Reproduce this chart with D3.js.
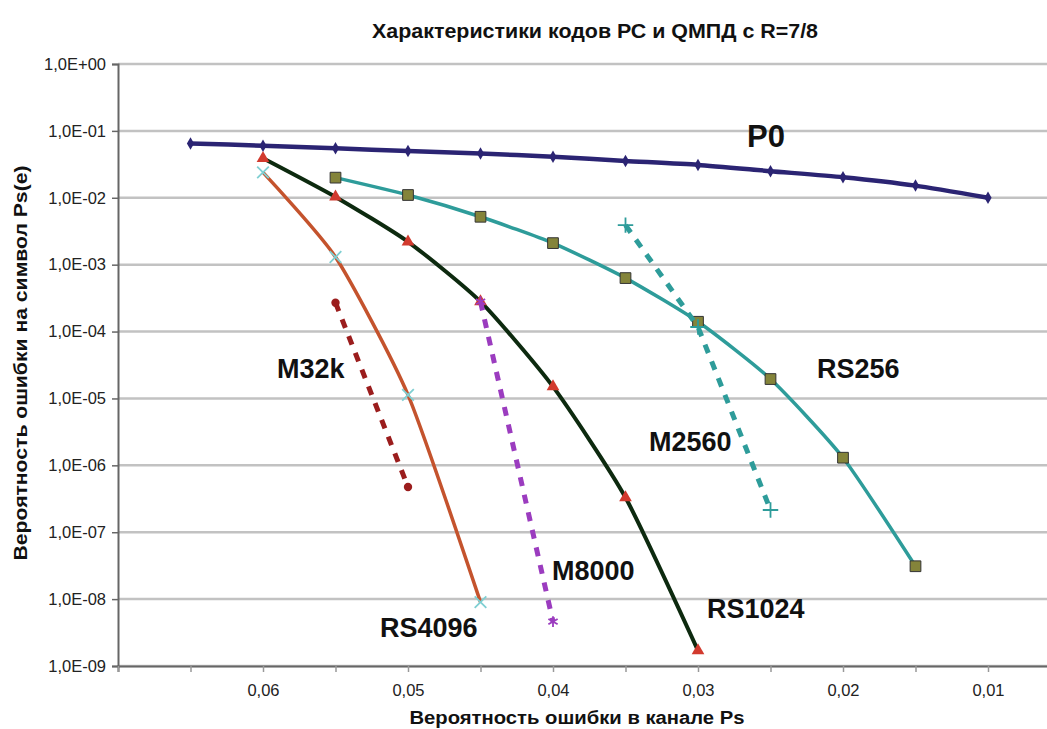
<!DOCTYPE html>
<html>
<head>
<meta charset="utf-8">
<script src="https://cdn.jsdelivr.net/npm/d3@7"></script>
<style>
  html, body { margin: 0; padding: 0; background: #fff; }
  svg { display: block; font-family: "Liberation Sans", Arial, sans-serif; }
</style>
</head>
<body>
<svg id="chart" width="1047" height="729"></svg>
<script>
// ---- data ----
const chartTitle = "Характеристики кодов РС и QМПД с R=7/8";
const xTitle = "Вероятность ошибки в канале  Ps";
const yTitle = "Вероятность ошибки на символ Ps(e)";

const seriesNames = ["P0", "RS256", "RS1024", "RS4096", "M32k", "M8000", "M2560"];

const psP0 = [0.065, 0.06, 0.055, 0.05, 0.045, 0.04, 0.035, 0.03, 0.025, 0.02, 0.015, 0.01];
const valP0 = [0.065, 0.06, 0.055, 0.05, 0.046, 0.041, 0.0355, 0.031, 0.025, 0.0203, 0.0152, 0.01];

const psRS256 = [0.055, 0.05, 0.045, 0.04, 0.035, 0.03, 0.025, 0.02, 0.015];
const valRS256 = [2.0e-2, 1.1e-2, 5.2e-3, 2.1e-3, 6.3e-4, 1.4e-4, 1.95e-5, 1.3e-6, 3.1e-8];

const psRS1024 = [0.06, 0.055, 0.05, 0.045, 0.04, 0.035, 0.03];
const valRS1024 = [3.9e-2, 1.03e-2, 2.2e-3, 2.8e-4, 1.5e-5, 3.3e-7, 1.7e-9];

const psRS4096 = [0.06, 0.055, 0.05, 0.045];
const valRS4096 = [2.4e-2, 1.3e-3, 1.13e-5, 9.0e-9];

const psM32k = [0.055, 0.05];
const valM32k = [2.7e-4, 4.75e-7];

const psM8000 = [0.045, 0.04];
const valM8000 = [2.8e-4, 4.6e-9];

const psM2560 = [0.035, 0.03, 0.025];
const valM2560 = [3.9e-3, 1.17e-4, 2.15e-7];

const yTickValues = [1, 1e-1, 1e-2, 1e-3, 1e-4, 1e-5, 1e-6, 1e-7, 1e-8, 1e-9];
const xTickValues = [0.07, 0.065, 0.06, 0.055, 0.05, 0.045, 0.04, 0.035, 0.03, 0.025, 0.02, 0.015, 0.01, 0.005];
const xTickLabels = {"0.06": "0,06", "0.05": "0,05", "0.04": "0,04", "0.03": "0,03", "0.02": "0,02", "0.01": "0,01"};

// ---- layout / style ----
const svg = d3.select("#chart");
const W = 1047, H = 729;
const plotLeft = 118, plotRight = 1133, plotTop = 64, plotBottom = 666;

const x = d3.scaleLinear().domain([0.07, 0]).range([plotLeft, plotRight]);
const y = d3.scaleLog().domain([1, 1e-9]).range([plotTop, plotBottom]);

svg.append("rect").attr("width", W).attr("height", H).attr("fill", "#fff");

// gridlines
svg.append("g").selectAll("line").data(yTickValues).join("line")
  .attr("x1", plotLeft).attr("x2", plotRight)
  .attr("y1", d => y(d)).attr("y2", d => y(d))
  .attr("stroke", "#c2c2c2").attr("stroke-width", 2.5);

// y axis
const fmtE = d => {
  const e = Math.round(Math.log10(d));
  return "1,0E" + (e >= 0 ? "+" : "-") + String(Math.abs(e)).padStart(2, "0");
};
const gy = svg.append("g").attr("transform", `translate(${plotLeft},0)`)
  .call(d3.axisLeft(y).tickValues(yTickValues).tickFormat(fmtE).tickSize(6).tickPadding(6));
gy.select(".domain").attr("stroke", "#666").attr("stroke-width", 2);
gy.selectAll(".tick line").attr("stroke", "#666").attr("stroke-width", 1.5);
gy.selectAll(".tick text").attr("font-size", 16.5).attr("fill", "#222")
  .attr("font-family", "'Liberation Sans', Arial, sans-serif");

// x axis
const gx = svg.append("g").attr("transform", `translate(0,${plotBottom})`)
  .call(d3.axisBottom(x).tickValues(xTickValues)
    .tickFormat(d => xTickLabels[String(+d.toFixed(3))] || "").tickSize(6).tickPadding(12));
gx.select(".domain").attr("stroke", "#666").attr("stroke-width", 2);
gx.selectAll(".tick line").attr("stroke", "#999").attr("stroke-width", 1.5);
gx.selectAll(".tick text").attr("font-size", 16.5).attr("fill", "#222")
  .attr("font-family", "'Liberation Sans', Arial, sans-serif");

// series definitions
const smooth = d3.curveCardinal.tension(0.4);
const series = [
  {name: seriesNames[0], xs: psP0, ys: valP0, color: "#2b2473", width: 4.5, dash: null, curve: smooth,
   sym: d3.symbolDiamond, symSize: 45, fill: "#2b2473", stroke: "none"},
  {name: seriesNames[1], xs: psRS256, ys: valRS256, color: "#2e9c9a", width: 3.5, dash: null, curve: smooth,
   sym: d3.symbolSquare, symSize: 115, fill: "#84843a", stroke: "#333"},
  {name: seriesNames[2], xs: psRS1024, ys: valRS1024, color: "#0d2a0f", width: 4, dash: null, curve: smooth,
   sym: d3.symbolTriangle, symSize: 70, fill: "#d23a2e", stroke: "none"},
  {name: seriesNames[3], xs: psRS4096, ys: valRS4096, color: "#c4532d", width: 3.5, dash: null, curve: smooth,
   sym: d3.symbolTimes, symSize: 90, fill: "none", stroke: "#7fcfd2"},
  {name: seriesNames[4], xs: psM32k, ys: valM32k, color: "#9b1d1d", width: 5, dash: "9,9", curve: d3.curveLinear,
   sym: d3.symbolCircle, symSize: 55, fill: "#9b1d1d", stroke: "none"},
  {name: seriesNames[5], xs: psM8000, ys: valM8000, color: "#9b3cbf", width: 5, dash: "9,9", curve: d3.curveLinear,
   sym: d3.symbolAsterisk, symSize: 80, fill: "none", stroke: "#9b3cbf"},
  {name: seriesNames[6], xs: psM2560, ys: valM2560, color: "#2e9c9a", width: 5, dash: "9,9", curve: d3.curveLinear,
   sym: d3.symbolPlus, symSize: 80, fill: "none", stroke: "#2e9c9a"}
];

const lineGroup = svg.append("g");
series.forEach(s => {
  const pts = s.xs.map((v, i) => [v, s.ys[i]]);
  const line = d3.line().x(d => x(d[0])).y(d => y(d[1])).curve(s.curve);
  lineGroup.append("path").attr("d", line(pts))
    .attr("fill", "none").attr("stroke", s.color).attr("stroke-width", s.width)
    .attr("stroke-dasharray", s.dash).attr("stroke-linejoin", "round");
  lineGroup.append("g").selectAll("path").data(pts).join("path")
    .attr("transform", d => `translate(${x(d[0])},${y(d[1])})`)
    .attr("d", d3.symbol().type(s.sym).size(s.symSize))
    .attr("fill", s.fill).attr("stroke", s.stroke)
    .attr("stroke-width", s.fill === "none" ? 1.8 : 1);
});

// series labels (pixel placement)
const labelPos = [
  {name: "P0", px: 747, py: 147, size: 31},
  {name: "RS256", px: 817, py: 378, size: 27},
  {name: "M2560", px: 649, py: 451, size: 27},
  {name: "M32k", px: 277, py: 378, size: 27},
  {name: "M8000", px: 552, py: 580, size: 27},
  {name: "RS1024", px: 707, py: 618, size: 27},
  {name: "RS4096", px: 380, py: 637, size: 27}
];
svg.append("g").selectAll("text").data(labelPos).join("text")
  .attr("x", d => d.px).attr("y", d => d.py)
  .attr("font-size", d => d.size).attr("font-weight", "bold").attr("fill", "#111")
  .text(d => d.name);

// titles
svg.append("text").attr("x", 595).attr("y", 38).attr("text-anchor", "middle")
  .attr("font-size", 20).attr("font-weight", "bold").attr("fill", "#111")
  .attr("textLength", 446).attr("lengthAdjust", "spacingAndGlyphs")
  .text(chartTitle);
svg.append("text").attr("x", 577).attr("y", 724).attr("text-anchor", "middle")
  .attr("font-size", 18).attr("font-weight", "bold").attr("fill", "#111")
  .attr("textLength", 335).attr("lengthAdjust", "spacingAndGlyphs")
  .text(xTitle);
svg.append("text").attr("transform", "translate(27,363) rotate(-90)").attr("text-anchor", "middle")
  .attr("font-size", 18).attr("font-weight", "bold").attr("fill", "#111")
  .attr("textLength", 395).attr("lengthAdjust", "spacingAndGlyphs")
  .text(yTitle);
</script>
</body>
</html>
